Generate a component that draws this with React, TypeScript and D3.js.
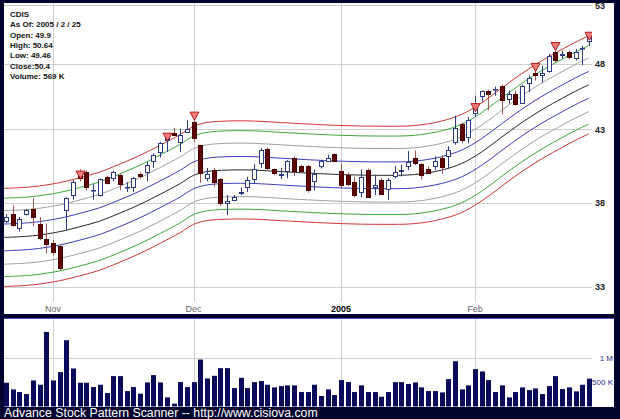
import * as d3 from "d3";

const W = 620;
const H = 419;

// daily candles, Oct 21 2004 .. Feb 25 2005 (index = trading day)
const opens = [
  36.85, 37.3, 36.45, 37.3, 37.6, 36.65, 35.75, 35.5, 35.35, 37.54,
  38.49, 39.9, 40.05, 38.82, 38.5, 39.7, 39.6, 39.83, 39.0, 39.0,
  39.9, 40.0, 40.75, 41.4, 42.2, 42.75, 42.1, 42.8, 43.55, 41.87,
  39.65, 40.15, 39.55, 38.0, 38.18, 38.65, 39.05, 39.52, 40.66, 41.6,
  40.2, 39.81, 40.08, 41.0, 40.4, 40.4, 39.43, 40.4, 40.77, 41.25,
  40.1, 39.8, 39.36, 38.7, 40.15, 39.0, 39.48, 38.88, 39.77, 40.1,
  40.4, 41.0, 40.55, 40.2, 40.45, 41.0, 41.1, 42.1, 43.4, 42.45,
  44.2, 45.45, 45.9, 46.0, 46.28, 45.25, 45.67, 44.95, 46.5, 47.3,
  47.15, 47.46, 48.95, 48.75, 49.0, 48.5, 49.28, 49.9,
];
const highs = [
  37.3, 37.85, 37.1, 37.6, 38.3, 37.1, 36.7, 35.7, 35.4, 38.35,
  39.5, 40.2, 40.15, 39.2, 39.6, 39.75, 40.1, 39.9, 39.35, 39.7,
  40.0, 40.7, 41.3, 42.1, 42.6, 43.1, 43.05, 43.67, 43.67, 41.9,
  40.3, 40.3, 39.6, 38.5, 38.5, 39.0, 39.7, 40.55, 41.66, 41.7,
  40.25, 40.3, 40.83, 41.1, 40.5, 40.5, 40.2, 40.85, 41.2, 41.3,
  40.6, 40.0, 39.7, 40.2, 40.25, 39.8, 39.6, 39.6, 40.42, 40.5,
  41.45, 41.5, 40.63, 40.4, 41.1, 41.17, 41.8, 44.0, 43.5, 43.9,
  45.5, 45.9, 45.95, 46.2, 46.34, 45.9, 45.9, 46.35, 47.06, 47.46,
  47.86, 48.8, 49.1, 49.09, 49.1, 49.2, 49.5, 50.64,
];
const lows = [
  36.7, 36.5, 36.2, 37.2, 36.55, 35.7, 34.9, 34.8, 33.9, 36.3,
  38.2, 39.4, 38.8, 38.2, 38.4, 39.2, 39.4, 38.8, 38.7, 38.7,
  39.6, 39.4, 40.3, 41.0, 41.4, 42.55, 41.4, 42.75, 42.1, 39.3,
  39.4, 39.05, 37.8, 37.22, 38.1, 38.5, 38.7, 39.3, 40.3, 40.15,
  39.8, 39.55, 39.6, 39.75, 39.95, 38.65, 38.8, 40.25, 40.7, 40.7,
  38.95, 39.1, 38.35, 38.35, 38.35, 38.5, 38.5, 38.2, 39.6, 39.72,
  40.15, 40.5, 39.53, 39.95, 40.15, 39.9, 40.26, 41.9, 42.0, 42.0,
  43.9, 45.05, 44.4, 45.5, 44.1, 44.9, 44.75, 44.9, 45.8, 46.67,
  46.5, 47.3, 48.1, 48.4, 48.4, 48.27, 47.9, 49.46,
];
const closes = [
  37.1, 36.6, 36.95, 37.55, 37.1, 35.8, 35.45, 34.97, 34.05, 38.3,
  39.35, 39.6, 39.0, 38.86, 39.55, 39.3, 40.0, 39.2, 39.05, 39.6,
  39.75, 40.5, 41.17, 42.0, 42.4, 42.6, 42.58, 43.05, 42.4, 39.95,
  39.9, 39.35, 38.0, 38.1, 38.4, 38.7, 39.48, 40.25, 41.52, 40.27,
  39.93, 39.92, 40.74, 40.08, 40.1, 38.82, 39.9, 40.74, 40.95, 40.8,
  39.15, 39.25, 38.5, 39.7, 38.4, 39.15, 38.6, 39.48, 40.04, 40.18,
  40.7, 40.66, 39.8, 39.98, 40.8, 40.37, 41.5, 43.07, 42.23, 43.65,
  44.9, 45.83, 45.65, 46.05, 45.2, 45.64, 44.9, 46.28, 46.85, 47.1,
  47.25, 48.67, 48.35, 48.82, 48.55, 49.0, 49.33, 50.4,
];
// volume in thousands
const volumes = [
  485, 349, 295, 254, 532, 444, 1522, 532, 702, 1353,
  776, 485, 485, 397, 444, 275, 620, 620, 315, 397,
  261, 492, 641, 492, 186, 58, 498, 397, 498, 959,
  573, 627, 783, 783, 376, 586, 376, 498, 519, 444,
  390, 417, 431, 431, 295, 295, 444, 214, 349, 234,
  539, 498, 295, 431, 295, 295, 200, 295, 498, 498,
  458, 492, 390, 315, 315, 288, 559, 925, 349, 431,
  763, 715, 539, 295, 431, 186, 295, 390, 336, 369,
  254, 417, 620, 356, 390, 308, 444, 569,
];

// signal markers (down triangles) and the price at their tip
const markerIdx = [11, 24, 28, 70, 79, 82, 87];
const markerTip = [39.55, 42.15, 43.67, 44.3, 47.4, 49.1, 49.95];

// centre line of the envelope, read at a few days
const midIdx = [-0.3, 4, 8, 11, 14, 17, 20, 23, 26, 28, 30, 33, 37, 41, 45, 50, 56, 61, 65, 68, 71, 74, 77, 80, 83, 85, 87];
const midVal = [35.85, 35.95, 36.2, 36.5, 36.85, 37.35, 37.9, 38.55, 39.25, 39.8, 40.05, 40.15, 40.15, 40.05, 39.95, 39.85, 39.8, 39.85, 40.15, 40.6, 41.4, 42.45, 43.5, 44.45, 45.3, 45.85, 46.35];

// envelope lines (log offsets from centre)
const bandOffsets = [0.0825, 0.066, 0.045, 0.0225, 0, -0.0225, -0.045, -0.066, -0.0825];
const bandColors = ["#d03434", "#3aa83a", "#a0a0a0", "#3b3bbd", "#262626", "#3b3bbd", "#a0a0a0", "#3aa83a", "#d03434"];

const priceTicks = [33, 38, 43, 48, 53];
const monthIdx = [7, 28, 50, 70];
const monthLabels = ["Nov", "Dec", "2005", "Feb"];
const volTicks = [1000, 500];
const volTickLabels = ["1 M", "500 K"];

const legendLines = [
  "CDIS",
  "As Of: 2005 / 2 / 25",
  "Open: 49.9",
  "High: 50.64",
  "Low: 49.46",
  "Close:50.4",
  "Volume: 569 K",
];

const FONT = "'Liberation Sans', Arial, sans-serif";

export default function App() {
  const x = d3.scaleLinear().domain([0, 87]).range([6, 589]);
  const y = d3.scaleLog().domain([33, 53]).range([286.7, 5]);
  const vy = d3.scaleLinear().domain([0, 1000]).range([406.5, 357.5]);

  const px = (i: number) => Math.round(x(i)) + 0.5;

  const mid = midIdx.map((d, k) => [d, midVal[k]] as [number, number]);
  const bandLine = (off: number) =>
    d3
      .line<[number, number]>()
      .x((d) => x(d[0]))
      .y((d) => y(d[1] * Math.exp(off)))
      .curve(d3.curveCatmullRom.alpha(0.5))(mid) || "";

  return (
    <svg
      width={W}
      height={H}
      style={{ position: "absolute", left: 0, top: 0, display: "block" }}
      fontFamily={FONT}
    >
      <defs>
        <clipPath id="pricePanel">
          <rect x={4} y={3} width={610} height={311} />
        </clipPath>
        <clipPath id="plotArea">
          <rect x={4} y={3} width={588} height={300} />
        </clipPath>
      </defs>
      <rect x={0} y={0} width={W} height={H} fill="#02022e" />

      {/* price panel */}
      <rect x={4} y={3} width={610} height={311} fill="#ffffff" />
      <g clipPath="url(#pricePanel)">
        {monthIdx.map((m) => (
          <line key={m} x1={px(m)} x2={px(m)} y1={3} y2={302} stroke="#cfcfcf" />
        ))}
        {priceTicks.map((t) => (
          <g key={t}>
            <line x1={4} x2={592} y1={Math.round(y(t)) + 0.5} y2={Math.round(y(t)) + 0.5} stroke="#cfcfcf" />
            <text x={595} y={y(t) + 3.5} fontSize={9} fontWeight="bold" fill="#222">
              {t}
            </text>
          </g>
        ))}
        {monthLabels.map((m, k) => (
          <text
            key={m}
            x={x(monthIdx[k])}
            y={312}
            fontSize={9}
            textAnchor="middle"
            fontWeight={m === "2005" ? "bold" : "normal"}
            fill={m === "2005" ? "#000" : "#666"}
          >
            {m}
          </text>
        ))}
      </g>

      <g clipPath="url(#plotArea)">
        {bandOffsets.map((off, k) => (
          <path key={k} d={bandLine(off)} fill="none" stroke={bandColors[k]} strokeWidth={1} />
        ))}

        {opens.map((o, i) => {
          const c = closes[i];
          const up = c >= o;
          const cx = px(i);
          const top = Math.round(y(Math.max(o, c))) + 0.5;
          const bot = Math.round(y(Math.min(o, c))) + 0.5;
          return (
            <g key={i}>
              <line
                x1={cx}
                x2={cx}
                y1={y(highs[i])}
                y2={y(lows[i])}
                stroke={up ? "#2c3a82" : "#a05454"}
              />
              <rect
                x={cx - 2}
                y={top}
                width={4}
                height={Math.max(bot - top, 0.5)}
                fill={up ? "#ffffff" : "#5e0404"}
                stroke={up ? "#2c3a82" : "#4a0000"}
              />
            </g>
          );
        })}

        {markerIdx.map((m, k) => {
          const cx = px(m);
          const ty = y(markerTip[k]);
          return (
            <path
              key={m}
              d={`M${cx - 4.5},${ty - 8}L${cx + 4.5},${ty - 8}L${cx},${ty}Z`}
              fill="#f27b7b"
              stroke="#b01818"
              strokeWidth={1}
            />
          );
        })}
      </g>

      {legendLines.map((l, k) => (
        <text key={k} x={10} y={17 + k * 10.35} fontSize={8} fontWeight="bold" fill="#111">
          {l}
        </text>
      ))}

      {/* volume panel */}
      <rect x={4} y={318.5} width={610} height={88.5} fill="#ffffff" />
      <line x1={4} x2={614} y1={318.5} y2={318.5} stroke="#4e4ec4" />
      {monthIdx.map((m) => (
        <line key={m} x1={px(m)} x2={px(m)} y1={319} y2={407} stroke="#cfcfcf" />
      ))}
      <line x1={4} x2={592} y1={Math.round(vy(1000)) + 0.5} y2={Math.round(vy(1000)) + 0.5} stroke="#d4d4d4" />
      {volumes.map((v, i) => (
        <rect
          key={i}
          x={Math.round(x(i)) - 2}
          y={vy(v)}
          width={5}
          height={vy(0) - vy(v)}
          fill="#0b0b5c"
        />
      ))}
      {volTicks.map((t, k) => (
        <text key={t} x={613} y={vy(t) + 3} fontSize={8} textAnchor="end" fill="#2a2a8a">
          {volTickLabels[k]}
        </text>
      ))}

      <text x={4} y={417} fontSize={12.3} fill="#ffffff">
        Advance Stock Pattern Scanner -- http://www.cisiova.com
      </text>
    </svg>
  );
}
